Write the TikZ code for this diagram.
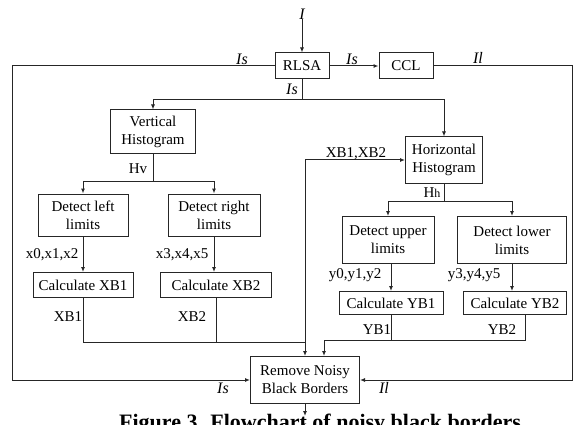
\documentclass[tikz,border=0pt]{standalone}
\usepackage{fontspec}
\setmainfont{Liberation Serif}
\usetikzlibrary{arrows.meta}

\begin{document}
\begin{tikzpicture}[x=1pt,y=-1pt,
    box/.style={draw=black!85, line width=1pt, fill=white, align=center, inner sep=1pt, font=\fontsize{15}{18}\selectfont},
    lbl/.style={inner sep=0pt, font=\fontsize{15}{18}\selectfont},
    il/.style={inner sep=0pt, font=\fontsize{16}{18}\selectfont\itshape},
    ln/.style={draw=black!85, line width=1pt},
    ar/.style={ln, -{Latex[length=5pt,width=4pt]}}]
    \useasboundingbox (0,0) rectangle (573,425);
    \fill[white] (0,0) rectangle (573,425);
    \clip (0,0) rectangle (573,425);

    \node[box, minimum width=54pt, minimum height=26pt] (rlsa) at (302,66) {RLSA};
    \node[box, minimum width=54pt, minimum height=26pt] (ccl) at (406,66) {CCL};
    \node[box, minimum width=85pt, minimum height=44pt] (vh) at (153,132) {Vertical\\Histogram};
    \node[box, minimum width=77pt, minimum height=46pt] (hh) at (444,160) {Horizontal\\Histogram};
    \node[box, minimum width=90pt, minimum height=42pt] (dl) at (83,215) {Detect left\\limits};
    \node[box, minimum width=92pt, minimum height=42pt] (dr) at (214,215) {Detect right\\limits};
    \node[box, minimum width=100pt, minimum height=25pt] (xb1) at (83,285) {Calculate XB1};
    \node[box, minimum width=111pt, minimum height=25pt] (xb2) at (216,285) {Calculate XB2};
    \node[box, minimum width=92pt, minimum height=47pt] (du) at (388,240) {Detect upper\\limits};
    \node[box, minimum width=109pt, minimum height=47pt] (dw) at (512,240) {Detect lower\\limits};
    \node[box, minimum width=104pt, minimum height=23pt] (yb1) at (391,303) {Calculate YB1};
    \node[box, minimum width=103pt, minimum height=23pt] (yb2) at (515,303) {Calculate YB2};
    \node[box, minimum width=109pt, minimum height=47pt] (rm) at (305,380) {Remove Noisy\\Black Borders};

    % labels
    \node[il] (inp) at (302,14) {I};
    \node[il] (is1) at (242,59) {Is};
    \node[il] (is2) at (352,59) {Is};
    \node[il] (is3) at (292,89) {Is};
    \node[il] (il1) at (478,58) {Il};
    \node[il] (is4) at (223,388) {Is};
    \node[il] (il2) at (384,388) {Il};
    \node[lbl] (hv) at (138,169) {Hv};
    \node[lbl] (hhl) at (432,193) {H{\fontsize{12}{14}\selectfont h}};
    \node[lbl] (x012) at (52,255) {x0,x1,x2};
    \node[lbl] (x345) at (182,255) {x3,x4,x5};
    \node[lbl] (xb1l) at (68,317) {XB1};
    \node[lbl] (xb2l) at (192,317) {XB2};
    \node[lbl] (xbs) at (356,154) {XB1,XB2};
    \node[lbl] (y012) at (355,275) {y0,y1,y2};
    \node[lbl] (y345) at (474,275) {y3,y4,y5};
    \node[lbl] (yb1l) at (377,330) {YB1};
    \node[lbl] (yb2l) at (502,330) {YB2};
    \node[il] (outl) at (303,429) {I};
    \node[anchor=base, inner sep=0pt, font=\fontsize{22}{26}\selectfont\bfseries] (cap) at (320,429) {Figure 3. Flowchart of noisy black borders};

    \coordinate (lft) at (12,380);
    \coordinate (rgt) at (572,380);
    \coordinate (tbus) at (302,100);
    \coordinate (vbus) at (153,181);
    \coordinate (hbus) at (444,201);
    \coordinate (xbus) at (305,342);
    \coordinate (ybus) at (324,340);
    \coordinate (out) at (305,416);

    \draw[ar] (inp.south) -- (rlsa.north);
    \draw[ar] (rlsa) -- (ccl);
    \draw[ar] (rlsa.west) -| (lft) -- (rm.west);
    \draw[ar] (ccl.east) -| (rgt) -- (rm.east);
    \draw[ln] (rlsa.south) -- (tbus);
    \draw[ar] (tbus) -| (vh.north);
    \draw[ar] (tbus) -| (hh.north);
    \draw[ln] (vh.south) -- (vbus);
    \draw[ar] (vbus) -| (dl.north);
    \draw[ar] (vbus) -| (dr.north);
    \draw[ar] (dl) -- (xb1);
    \draw[ar] (dr.south) -- (dr.south |- xb2.north);
    \draw[ln] (xb1.south) |- (xbus);
    \draw[ln] (xb2.south) -- (xb2.south |- xbus);
    \draw[ar] (xbus) -- (rm.north);
    \draw[ar] (xbus) |- (hh.west);
    \draw[ln] (hh.south) -- (hbus);
    \draw[ar] (hbus) -| (du.north);
    \draw[ar] (hbus) -| (dw.north);
    \draw[ar] (du.south -| yb1.north) -- (yb1.north);
    \draw[ar] (dw.south) -- (dw.south |- yb2.north);
    \draw[ln] ([xshift=10pt]yb2.south) |- (ybus);
    \draw[ln] (yb1.south) -- (yb1.south |- ybus);
    \draw[ar] (ybus) -- (ybus |- rm.north);
    \draw[ar] (rm.south) -- (out);
\end{tikzpicture}
\end{document}
